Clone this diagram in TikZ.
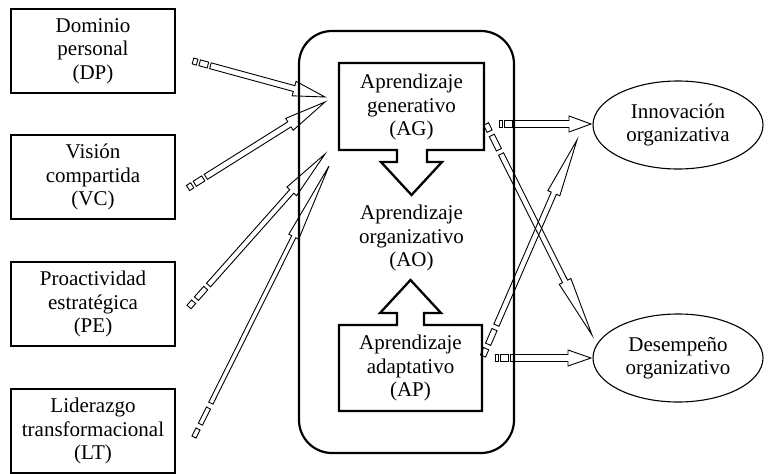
\documentclass[tikz,border=0pt]{standalone}
\usepackage{fontspec}
\setmainfont{Liberation Serif}
\usetikzlibrary{calc,shapes.geometric}
\newcommand\lblfont{\fontsize{21}{23.5}\selectfont}
\tikzset{
  lbox/.style={draw, line width=1.2pt, minimum width=164pt, minimum height=84pt, align=center, font=\lblfont, inner sep=0pt},
  txt/.style={align=center, font=\lblfont, inner sep=0pt},
  ell/.style={draw, ellipse, line width=1.1pt, minimum width=170pt, minimum height=88pt, align=center, font=\lblfont, inner sep=0pt},
  thick box/.style={draw, line width=2.3pt, line join=miter},
  arr/.style={draw, line width=0.9pt, line join=miter},
}
% striped hollow arrow: from, to, shaft half-width, head half-width, head length, stripe scale
\newcommand\striparrow[6]{%
  \path let \p1=(#1), \p2=(#2) in \pgfextra{%
    \pgfmathsetmacro\arrang{atan2(\y2-\y1,\x2-\x1)}%
    \pgfmathsetmacro\arrlen{veclen(\x2-\x1,\y2-\y1)}%
    \global\let\arrang\arrang \global\let\arrlen\arrlen};
  \begin{scope}[shift={(#1)},rotate=\arrang]
    \draw[arr] (0,-#3) rectangle (#6,#3);
    \draw[arr] ({1.6*#6},-#3) rectangle ({3.6*#6},#3);
    \draw[arr] ({4.2*#6},-#3) -- ({\arrlen-#5},-#3) -- ({\arrlen-#5},-#4) -- (\arrlen,0)
      -- ({\arrlen-#5},#4) -- ({\arrlen-#5},#3) -- ({4.2*#6},#3) -- cycle;
  \end{scope}}
\begin{document}
\begin{tikzpicture}[x=1pt,y=-1pt]
\useasboundingbox (0,0) rectangle (780,474);
% left boxes
\node[lbox] (DP) at (93,51) {Dominio\\personal\\(DP)};
\node[lbox] (VC) at (93,177) {Visión\\compartida\\(VC)};
\node[lbox] (PE) at (93,304) {Proactividad\\estratégica\\(PE)};
\node[lbox] (LT) at (93,431) {Liderazgo\\transformacional\\(LT)};
% central container
\draw[line width=2.2pt, rounded corners=33pt] (299,31) rectangle (514,453);
% AG box with down arrow
\draw[thick box] (339,63) -- (484,63) -- (484,150) -- (427,150) -- (427,162) -- (442,162)
  -- (411.5,195) -- (381,162) -- (397,162) -- (397,150) -- (339,150) -- cycle;
\node[txt] (AG) at (411.5,107) {Aprendizaje\\generativo\\(AG)};
\node[txt] (AO) at (411.5,238) {Aprendizaje\\organizativo\\(AO)};
% AP box with up arrow
\draw[thick box] (339,325) -- (397,325) -- (397,313) -- (380,313) -- (410.5,280) -- (441,313)
  -- (424,313) -- (424,325) -- (482,325) -- (482,411) -- (339,411) -- cycle;
\node[txt] (AP) at (410.5,368) {Aprendizaje\\adaptativo\\(AP)};
% ellipses
\node[ell] (IN) at (678,125) {Innovación\\organizativa};
\node[ell] (DE) at (678,358) {Desempeño\\organizativo};
% arrow end points
\coordinate (tDP) at (193,61);  \coordinate (hDP) at (325,97);
\coordinate (tVC) at (188,188); \coordinate (hVC) at (325,102);
\coordinate (tPE) at (189,307); \coordinate (hPE) at (325,154);
\coordinate (tLT) at (194,437); \coordinate (hLT) at (329,166);
\coordinate (tAGI) at (499,124); \coordinate (hAGI) at (591,124);
\coordinate (tAGD) at (486,124); \coordinate (hAGD) at (592,335);
\coordinate (tAPI) at (483,356); \coordinate (hAPI) at (577,140);
\coordinate (tAPD) at (495,358); \coordinate (hAPD) at (591,358);
\striparrow{tDP}{hDP}{3}{7.5}{32}{4.3}
\striparrow{tVC}{hVC}{3}{7}{42}{5}
\striparrow{tPE}{hPE}{2.7}{6.5}{50}{7}
\striparrow{tLT}{hLT}{2.3}{5.5}{79}{9}
\striparrow{tAGI}{hAGI}{3.5}{8}{22}{3.7}
\striparrow{tAGD}{hAGD}{2.8}{6.5}{60}{8}
\striparrow{tAPI}{hAPI}{2.8}{6.5}{58}{8}
\striparrow{tAPD}{hAPD}{3.5}{8}{23}{3.7}
\end{tikzpicture}
\end{document}
